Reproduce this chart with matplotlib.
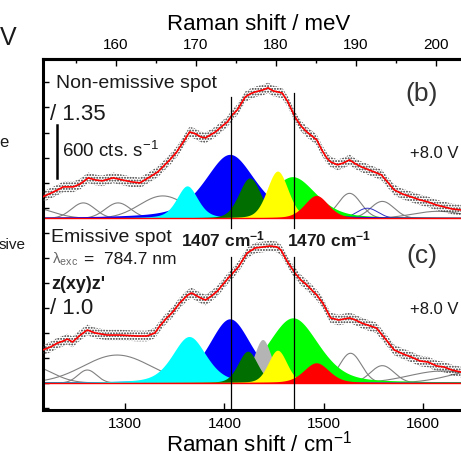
import numpy as np
import matplotlib.pyplot as plt
from matplotlib.ticker import MultipleLocator

plt.rcParams['font.family'] = 'Liberation Sans'
plt.rcParams['mathtext.default'] = 'regular'
plt.rcParams['hatch.linewidth'] = 0.9

# measured spectra (red fit curve), Raman shift in cm-1, intensity in cts/s
x_b = [1217, 1228, 1238, 1248, 1255, 1263, 1270, 1277, 1288, 1297, 1307, 1315, 1325, 1333, 1338,
       1345, 1352, 1358, 1365, 1371, 1376, 1381, 1386, 1391, 1398, 1403, 1408, 1413, 1421, 1426,
       1431, 1439, 1444, 1449, 1458, 1464, 1471, 1477, 1483, 1493, 1498, 1503, 1507, 1514, 1520,
       1526, 1532, 1538, 1548, 1558, 1565, 1571, 1579, 1588, 1597, 1605, 1613, 1621, 1629, 1638]
y_b = [243, 299, 356, 356, 390, 458, 435, 424, 458, 435, 412, 401, 469, 525, 582,
       661, 751, 853, 977, 955, 921, 910, 944, 977, 1045, 1090, 1170, 1226, 1373, 1407,
       1429, 1452, 1475, 1441, 1418, 1316, 1148, 1045, 977, 887, 774, 684, 638, 605, 627,
       661, 616, 582, 537, 492, 401, 322, 277, 243, 209, 186, 153, 130, 107, 96]

x_c = [1217, 1225, 1232, 1238, 1242, 1247, 1255, 1262, 1270, 1282, 1295, 1312, 1322, 1330,
       1335, 1341, 1348, 1355, 1363, 1367, 1376, 1381, 1387, 1393, 1398, 1404, 1414, 1423,
       1431, 1439, 1446, 1453, 1457, 1463, 1471, 1477, 1483, 1493, 1499, 1507, 1515, 1526,
       1532, 1538, 1547, 1553, 1563, 1571, 1580, 1588, 1597, 1605, 1614, 1621, 1629, 1638]
y_c = [373, 407, 452, 475, 497, 463, 542, 599, 565, 542, 542, 531, 531, 565,
       644, 723, 802, 904, 994, 1017, 961, 938, 983, 1040, 1107, 1187, 1311, 1469,
       1526, 1537, 1548, 1537, 1503, 1379, 1243, 1164, 1107, 994, 904, 735, 712, 735,
       712, 678, 644, 622, 486, 373, 328, 294, 249, 237, 192, 181, 147, 124]

# fitted components: center, FWHM, height, lorentz fraction
fill_colors = ['#00ff00', '#0000ff', '#00ffff', '#b4b4b4', '#006e00', '#ffff00', '#ff0000']
fill_b = [(1469, 55, 466, 0.4), (1406, 60, 718, 0.5), (1363, 25, 362, 0.4), (1439, 12, 192, 0.2),
          (1426, 26, 452, 0.2), (1454, 25, 529, 0.2), (1493, 28, 254, 0.3)]
fill_c = [(1469.5, 60, 731, 0.35), (1406, 50, 720, 0.4), (1365, 40, 520, 0.4), (1439, 21, 486, 0.3),
          (1424, 23, 354, 0.2), (1454, 22, 365, 0.2), (1493, 30, 223, 0.3)]
line_b = [(1205, 50, 124), (1258, 28, 175), (1293, 30, 175), (1338, 55, 254),
          (1526, 27, 283), (1559, 28, 192), (1615, 60, 80)]
line_b_blue = [(1544, 25, 115)]
line_c = [(1205, 50, 192), (1262, 22, 147), (1292, 80, 316), (1527, 26, 336),
          (1559, 28, 196), (1620, 80, 136), (1665, 80, 160)]

offset_b = 1860
offset_c = 0


def pv(x, c, w, h, eta=0.0):
    g = np.exp(-4 * np.log(2) * ((x - c) / w) ** 2)
    l = 1 / (1 + ((x - c) / (w / 2)) ** 2)
    return h * (eta * l + (1 - eta) * g)


W, H = 461, 453
fig = plt.figure(figsize=(W / 100, H / 100), dpi=100)
ax = fig.add_axes([43 / W, 43 / H, (475 - 43) / W, 351 / H])
ax.set_xlim(1217.4, 1652.3)
ax.set_ylim(-305, 3661)

x = np.linspace(1200, 1680, 961)


def panel(off, xd, yd, fills, lines, blue_lines=()):
    for (c, w, h, eta), col in zip(fills, fill_colors):
        ax.fill_between(x, off, off + pv(x, c, w, h, eta), color=col, lw=0, zorder=2)
    for c, w, h in lines:
        ax.plot(x, off + pv(x, c, w, h), color='0.5', lw=0.8, zorder=1.5)
    for c, w, h in blue_lines:
        ax.plot(x, off + pv(x, c, w, h), color='#3030c0', lw=0.7, zorder=1.5)
    ax.plot([1200, 1680], [off, off], color='red', lw=1.0, zorder=2.5)
    xd = np.array(xd)
    yd = np.array(yd) + off
    # scatter of the raw counts drawn as a dotted band around the fit
    ax.fill_between(xd, yd - 60, yd + 60, facecolor='none', edgecolor='0.2',
                    hatch='......', lw=0, zorder=3)
    ax.plot(xd, yd, color='red', lw=1.2, zorder=4)


panel(offset_b, x_b, y_b, fill_b, line_b, line_b_blue)
panel(offset_c, x_c, y_c, fill_c, line_c)

# marker lines at 1407 and 1470 cm-1
ax.plot([1407, 1407], [1752, 3232], color='k', lw=0.9, zorder=5)
ax.plot([1470, 1470], [1752, 3277], color='k', lw=0.9, zorder=5)
ax.plot([1407, 1407], [-305, 1424], color='k', lw=0.9, zorder=5)
ax.plot([1470, 1470], [-305, 1424], color='k', lw=0.9, zorder=5)

# 600 cts/s scale bar
ax.plot([1231.5, 1231.5], [2317, 2917], color='k', lw=1.8)

for s in ['left', 'bottom', 'top']:
    ax.spines[s].set_linewidth(2.2)
ax.spines['right'].set_visible(False)

ax.set_xticks([1300, 1400, 1500, 1600])
ax.tick_params(axis='x', direction='in', length=5, width=1, pad=5, labelsize=11, top=False)
ax.yaxis.set_major_locator(MultipleLocator(283))
ax.tick_params(axis='y', direction='in', length=4, width=1, labelleft=False, right=False)
ax.set_xlabel('Raman shift / cm$^{-1}$', fontsize=16, labelpad=0)

sec = ax.secondary_xaxis('top', functions=(lambda v: v / 8.06554, lambda v: v * 8.06554))
sec.set_xticks([160, 170, 180, 190, 200])
sec.xaxis.set_minor_locator(MultipleLocator(5))
sec.tick_params(direction='in', length=5, width=1, pad=5, labelsize=11)
sec.tick_params(which='minor', direction='in', length=3, width=1)
sec.spines['top'].set_linewidth(2.2)
sec.set_xlabel('Raman shift / meV', fontsize=16, labelpad=6)


def t(px, py, s, **kw):
    kw.setdefault('va', 'baseline')
    kw.setdefault('color', '#1a1a1a')
    fig.text(px / W, 1 - py / H, s, **kw)


t(56, 87.5, 'Non-emissive spot', fontsize=14)
t(50, 119.5, '/ 1.35', fontsize=16)
t(62, 157, '600 cts. s$^{-1}$', fontsize=13.5)
t(405, 93.5, '(b)', fontsize=19, va='center', color='#333333')
t(410, 153, '+8.0 V', fontsize=12, va='center')
t(51, 242, 'Emissive spot', fontsize=14)
t(52, 263.5, '$\\lambda_{exc}$', fontsize=11, color='0.4')
t(84, 263.5, '=  784.7 nm', fontsize=12.5)
t(51, 289, "z(xy)z'", fontsize=13, fontweight='bold')
t(50, 314, '/ 1.0', fontsize=16)
t(181, 246.5, '1407 cm$^{-1}$', fontsize=12.5, fontweight='bold')
t(287, 246.5, '1470 cm$^{-1}$', fontsize=12.5, fontweight='bold')
t(406, 256, '(c)', fontsize=19, va='center', color='#333333')
t(410, 310, '+8.0 V', fontsize=12, va='center')
t(0, 45, 'V', fontsize=18)
t(-1, 147, 'e', fontsize=12)
t(-1, 249, 'sive', fontsize=11)

fig.savefig('out.png', dpi=100)
